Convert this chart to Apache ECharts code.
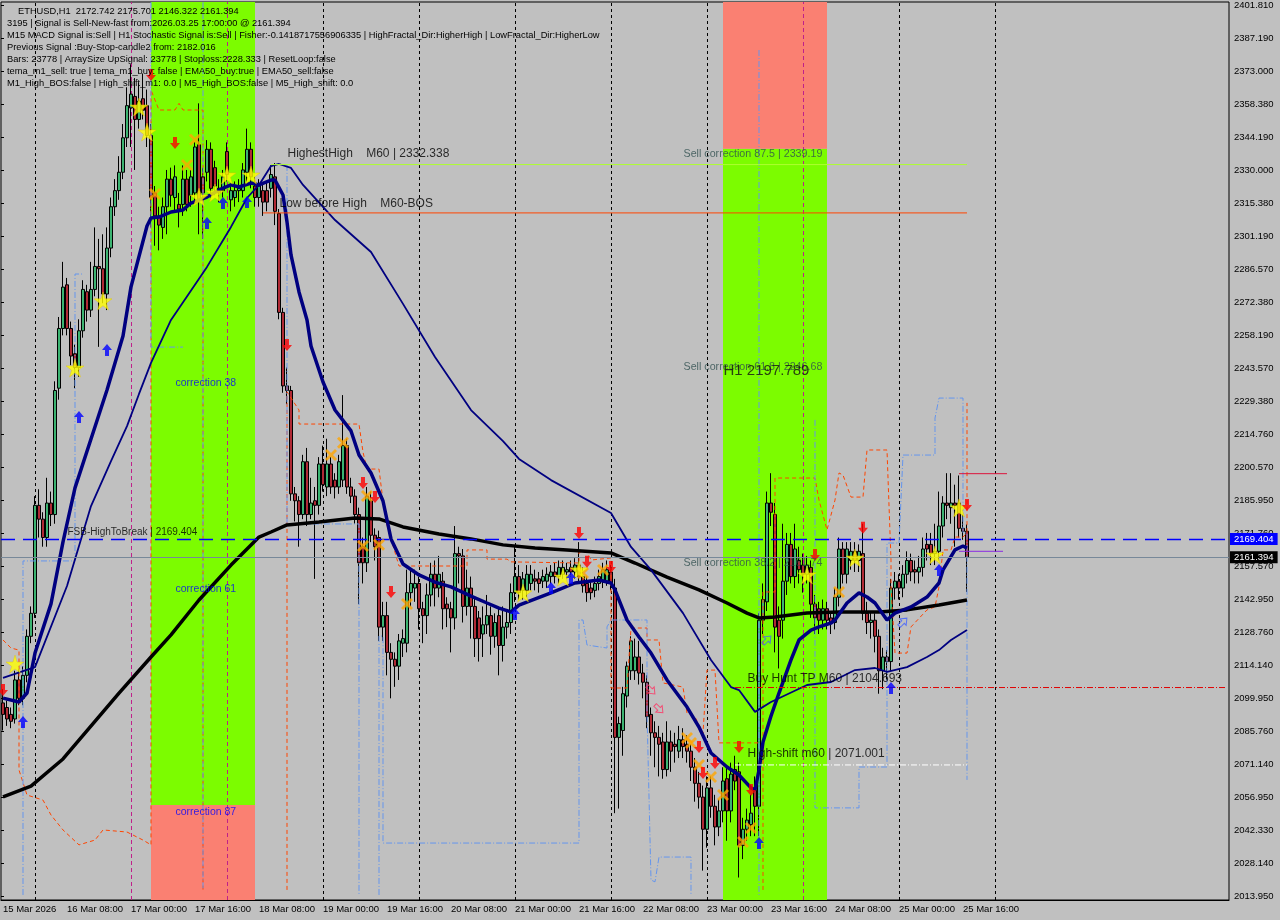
<!DOCTYPE html>
<html><head><meta charset="utf-8">
<script src="https://cdn.jsdelivr.net/npm/echarts@6/dist/echarts.min.js"></script>
<style>html,body{margin:0;padding:0;background:#c0c0c0}#c{width:1280px;height:920px}</style>
</head><body><div id="c"></div>
<script>
// ---------------- DATA ----------------
// OHLC per H1 bar, bar 0 = 15 Mar 2026 16:00  ([open, high, low, close])
const ohlc = [
[2098,2104,2086,2093],[2096,2099,2088,2091],[2093,2096,2087,2090],[2091,2112,2089,2108],[2108,2113,2097,2100],
[2100,2114,2097,2110],[2110,2130,2107,2127],[2127,2140,2124,2137],[2137,2188,2135,2184],[2184,2191,2170,2178],
[2178,2181,2166,2170],[2170,2196,2166,2185],[2185,2190,2175,2180],[2180,2238,2176,2234],[2235,2266,2230,2261],
[2261,2290,2258,2279],[2280,2283,2258,2261],[2261,2264,2245,2249],[2250,2254,2235,2244],[2244,2265,2240,2260],
[2260,2282,2257,2278],[2277,2280,2264,2269],[2269,2290,2266,2278],[2278,2305,2275,2288],[2288,2300,2253,2287],
[2287,2302,2272,2276],[2276,2305,2269,2296],[2296,2318,2292,2314],[2314,2326,2310,2321],[2321,2336,2317,2329],
[2329,2350,2326,2344],[2344,2366,2340,2358],[2357,2376,2340,2363],[2362,2370,2330,2352],[2352,2368,2348,2360],
[2361,2372,2352,2356],[2358,2365,2340,2345],[2345,2350,2305,2318],[2320,2323,2297,2310],[2310,2314,2295,2306],
[2305,2318,2300,2314],[2314,2330,2302,2326],[2326,2331,2314,2319],[2318,2332,2312,2327],[2315,2320,2305,2313],
[2315,2332,2310,2326],[2326,2330,2312,2315],[2319,2330,2314,2327],[2320,2342,2316,2340],[2341,2359,2302,2317],
[2327,2331,2300,2320],[2329,2343,2325,2339],[2339,2342,2318,2322],[2331,2334,2319,2323],[2322,2326,2316,2320],
[2321,2330,2318,2327],[2338,2342,2325,2328],[2317,2324,2312,2321],[2318,2325,2314,2321],[2321,2326,2316,2322],
[2321,2333,2318,2330],[2329,2348,2325,2339],[2339,2342,2322,2327],[2323,2327,2314,2318],[2318,2326,2314,2323],
[2321,2324,2310,2316],[2321,2325,2312,2316],[2322,2332,2318,2328],[2327,2333,2306,2312],[2311,2313,2265,2268],
[2268,2270,2233,2236],[2236,2244,2228,2234],[2234,2236,2186,2189],[2189,2192,2177,2186],[2186,2188,2166,2180],
[2180,2206,2178,2203],[2203,2209,2175,2180],[2180,2196,2178,2185],[2186,2192,2152,2184],[2184,2205,2180,2202],
[2202,2210,2190,2193],[2192,2213,2188,2202],[2202,2205,2189,2192],[2195,2198,2187,2192],[2192,2206,2189,2203],
[2195,2232,2192,2210],[2210,2213,2189,2192],[2192,2196,2185,2188],[2188,2191,2176,2180],[2180,2183,2141,2159],
[2166,2170,2150,2159],[2159,2192,2155,2188],[2186,2190,2168,2171],[2171,2174,2160,2166],[2170,2173,2125,2131],
[2131,2142,2125,2136],[2136,2142,2110,2120],[2120,2124,2100,2117],[2117,2120,2105,2114],[2114,2128,2108,2125],
[2124,2130,2118,2126],[2124,2156,2120,2146],[2146,2156,2140,2150],[2148,2156,2142,2150],[2150,2153,2130,2139],
[2139,2142,2124,2136],[2136,2150,2128,2145],[2145,2159,2140,2154],[2154,2160,2140,2148],[2148,2162,2144,2154],
[2151,2155,2130,2139],[2141,2144,2131,2139],[2139,2142,2120,2135],[2135,2175,2130,2163],[2163,2166,2150,2162],
[2162,2165,2133,2140],[2140,2156,2136,2148],[2148,2153,2126,2140],[2140,2144,2118,2126],[2135,2138,2116,2126],
[2128,2140,2118,2132],[2132,2145,2128,2136],[2136,2140,2119,2127],[2127,2137,2122,2133],[2136,2139,2110,2123],
[2123,2140,2116,2131],[2131,2138,2126,2133],[2133,2150,2128,2146],[2146,2166,2142,2153],[2153,2158,2143,2146],
[2147,2155,2143,2152],[2147,2158,2144,2154],[2150,2158,2147,2154],[2152,2156,2147,2151],[2152,2155,2146,2150],
[2151,2156,2148,2153],[2151,2157,2148,2154],[2153,2158,2150,2155],[2155,2159,2150,2153],[2153,2160,2150,2157],
[2154,2160,2152,2157],[2155,2159,2152,2156],[2157,2160,2153,2155],[2155,2161,2152,2158],[2158,2168,2150,2153],
[2153,2157,2146,2149],[2150,2153,2142,2146],[2148,2151,2143,2146],[2147,2153,2144,2150],[2150,2156,2147,2153],
[2151,2159,2148,2156],[2151,2160,2149,2156],[2155,2158,2147,2150],[2148,2152,2050,2083],[2083,2092,2052,2089],
[2086,2105,2075,2102],[2101,2116,2096,2114],[2112,2127,2108,2125],[2112,2126,2108,2118],[2118,2125,2106,2111],
[2111,2115,2100,2107],[2107,2110,2087,2092],[2093,2096,2075,2085],[2085,2090,2070,2083],[2083,2088,2066,2080],
[2081,2085,2065,2069],[2069,2090,2066,2081],[2081,2086,2068,2077],[2080,2085,2072,2079],[2077,2088,2074,2082],
[2082,2087,2074,2079],[2080,2084,2072,2077],[2077,2080,2064,2070],[2070,2074,2055,2063],[2063,2068,2052,2057],
[2057,2062,2025,2043],[2043,2066,2035,2061],[2061,2066,2048,2053],[2053,2058,2036,2044],[2044,2056,2040,2051],
[2051,2070,2046,2064],[2065,2070,2038,2051],[2051,2072,2046,2067],[2069,2075,2060,2064],[2068,2072,2022,2036],
[2036,2048,2030,2043],[2043,2052,2038,2047],[2045,2058,2040,2050],[2060,2066,2040,2053],[2053,2137,2040,2134],
[2134,2150,2128,2143],[2142,2190,2138,2185],[2185,2198,2175,2181],[2180,2185,2120,2131],[2134,2140,2113,2127],
[2134,2176,2126,2151],[2151,2172,2145,2167],[2167,2172,2150,2153],[2153,2176,2148,2165],[2160,2166,2150,2156],
[2158,2163,2146,2154],[2154,2162,2150,2158],[2157,2160,2135,2141],[2141,2145,2128,2135],[2139,2142,2128,2134],
[2134,2143,2130,2139],[2139,2142,2130,2134],[2135,2138,2128,2133],[2133,2148,2130,2144],[2144,2170,2140,2165],
[2165,2168,2150,2154],[2154,2168,2150,2165],[2160,2168,2156,2164],[2164,2168,2155,2160],[2160,2167,2155,2164],
[2163,2176,2134,2137],[2137,2142,2128,2133],[2133,2138,2126,2134],[2134,2137,2120,2127],[2127,2130,2102,2112],
[2112,2122,2104,2118],[2118,2121,2108,2116],[2116,2152,2112,2148],[2148,2155,2143,2151],[2151,2154,2143,2148],
[2148,2158,2144,2154],[2154,2164,2150,2160],[2160,2163,2151,2155],[2156,2160,2150,2155],[2155,2162,2150,2157],
[2157,2170,2153,2165],[2167,2172,2160,2165],[2167,2172,2158,2163],[2163,2176,2158,2164],[2164,2190,2160,2175],
[2175,2188,2170,2185],[2185,2198,2178,2184],[2183,2198,2176,2185],[2185,2193,2166,2184],[2185,2197,2170,2174],
[2174,2180,2169,2172.7],[2172.742,2175.701,2146.322,2161.394]
];

// Moving averages: [bar index, price]
const emaFast = [[0,2100.1],[4,2098.4],[6,2102.3],[8,2119.7],[12,2141.1],[15,2168.1],[18,2191.6],[22,2212.9],[26,2234.2],[30,2257.7],[32,2279.1],[36,2305.6],[37,2309.1],[39,2309.5],[42,2311.7],[45,2312.6],[47,2315.6],[51,2318.2],[54,2321.3],[57,2323.5],[59,2322.6],[62,2324.3],[64,2323.5],[67,2325.6],[68,2325.6],[70,2319.1],[71,2307.4],[72,2293.0],[74,2276.9],[76,2264.7],[77,2253.4],[80,2237.7],[83,2225.5],[87,2216.4],[89,2205.9],[92,2198.1],[95,2185.9],[97,2169.4],[100,2158.5],[104,2153.7],[108,2150.6],[112,2148.5],[117,2144.5],[121,2141.5],[124,2139.3],[127,2137.6],[129,2140.6],[137,2145.9],[143,2150.2],[149,2151.5],[152,2150.2],[153,2147.2],[156,2134.1],[159,2126.7],[162,2119.7],[166,2108.0],[171,2096.2],[174,2087.5],[177,2076.2],[181,2070.1],[184,2066.6],[187,2061.0],[188,2060.1],[189,2068.8],[190,2081.0],[192,2092.3],[194,2102.3],[197,2116.7],[199,2125.4],[202,2129.7],[204,2131.1],[207,2132.8],[208,2134.1],[211,2141.5],[214,2145.9],[216,2144.1],[218,2141.5],[221,2134.1],[223,2137.1],[227,2139.8],[231,2144.1],[234,2150.2],[235,2155.9],[238,2164.6],[240,2166.3],[241,2165.4]];
const emaMid = [[0,2108.9],[8,2113.6],[16,2148.9],[22,2183.7],[27,2203.3],[31,2218.5],[34,2232.5],[37,2246.0],[42,2264.7],[51,2287.8],[57,2305.2],[61,2317.8],[64,2323.5],[67,2331.7],[69,2332.6],[72,2330.9],[75,2323.5],[83,2308.2],[92,2294.3],[100,2271.7],[108,2248.6],[117,2225.5],[125,2212.0],[129,2204.2],[137,2195.0],[152,2180.7],[157,2165.9],[162,2155.9],[170,2137.1],[177,2116.7],[182,2104.9],[184,2103.6],[188,2094.1],[192,2098.4],[201,2105.8],[207,2107.1],[213,2112.3],[218,2113.2],[221,2111.5],[226,2113.6],[231,2118.0],[234,2121.0],[237,2125.4],[241,2129.7]];
const emaSlow = [[0,2057.1],[7,2061.8],[15,2073.6],[29,2102.3],[37,2118.0],[42,2127.6],[49,2142.8],[57,2158.0],[64,2170.2],[67,2172.4],[71,2175.5],[79,2176.8],[88,2178.5],[94,2178.1],[100,2174.6],[109,2171.5],[117,2169.4],[125,2166.8],[133,2165.4],[141,2164.6],[152,2163.3],[158,2158.9],[166,2152.8],[174,2147.2],[181,2141.5],[186,2137.1],[189,2135.0],[193,2135.4],[201,2137.1],[209,2137.6],[219,2137.6],[226,2138.5],[234,2140.6],[241,2142.8]];

// Dashed channel / step indicators: [bar index, price]
const redSteps = [
 [[0,2125.4],[2,2121.9],[4,2121.0],[4,2068.8],[6,2057.9],[10,2055.7],[12,2049.2],[15,2042.7],[19,2036.2],[23,2038.3],[25,2042.7],[31,2041.8],[35,2038.3],[37,2036.2],[37,2364.8],[39,2356.1],[43,2356.1],[44,2359.0],[45,2356.1],[50,2356.1],[50,2016.6]],
 [[71,2016.6],[71,2233.4],[74,2225.5],[74,2219.4],[89,2219.4],[90,2207.2],[91,2199.8],[94,2199.8],[95,2185.9],[96,2175.4],[99,2157.6],[116,2157.6],[116,2164.6],[121,2164.6],[121,2160.6],[126,2160.6],[127,2159.4],[144,2158.9],[144,2163.7],[146,2163.7],[147,2160.2],[152,2161.1],[152,2104.5],[156,2104.5],[157,2130.6],[161,2130.6],[161,2125.4],[164,2125.4],[165,2106.7],[170,2104.9],[171,2093.6],[173,2091.9],[175,2084.9],[176,2112.3],[178,2112.3],[179,2080.6],[189,2080.6]],
 [[190,2016.6],[190,2146.3],[193,2146.3],[193,2195.9],[203,2195.9],[204,2186.3],[206,2173.3],[208,2186.3],[209,2198.1],[210,2197.2],[212,2187.6],[215,2187.6],[216,2208.1],[221,2208.1],[222,2160.2],[222,2148.5],[223,2119.7],[226,2119.7],[227,2131.1],[231,2138.5],[233,2139.8],[234,2148.5],[235,2164.6],[237,2164.6],[238,2170.2],[240,2170.2],[241,2172.0],[241,2228.6]]
];
const blueSteps = [
 [[5,2014.4],[5,2159.8],[18,2159.8],[18,2284.7],[20,2284.7]],
 [[37,2403.0],[37,2252.9],[45,2252.9]],
 [[50,2403.0],[50,2016.6]],
 [[71,2332.2],[71,2175.9],[89,2175.9],[89,2014.4]],
 [[94,2014.4],[94,2127.1],[95,2127.1],[95,2037.0],[144,2037.0],[144,2134.1],[145,2134.1],[146,2123.2],[151,2121.9],[151,2131.1],[152,2134.1],[161,2134.1],[161,2093.6],[162,2020.9],[163,2020.1],[164,2030.9],[172,2030.9],[172,2014.4]],
 [[189,2382.2],[189,2014.4]],
 [[203,2221.2],[203,2052.3],[214,2052.3],[214,2070.1],[221,2070.1],[221,2167.6],[224,2167.6],[225,2205.9],[233,2205.9],[233,2222.0],[234,2230.7],[240,2230.7],[240,2172.0],[241,2172.0],[241,2064.5]]
];

// Signal markers: [bar index, price]
const stars = [[3,2114.9],[18,2243.8],[25,2273.0],[34,2357.4],[36,2346.5],[49,2318.2],[53,2320.0],[56,2327.8],[62,2327.8],[130,2145.9],[140,2152.8],[144,2155.9],[201,2153.7],[213,2161.1],[233,2162.4],[239,2182.9]];
const crosses = [[38,2319.5],[46,2332.2],[48,2343.1],[82,2205.9],[85,2211.2],[91,2188.1],[90,2166.3],[94,2166.8],[101,2141.1],[145,2154.6],[150,2155.9],[171,2082.7],[172,2080.6],[174,2071.0],[177,2065.8],[180,2057.9],[185,2037.5],[187,2043.6],[209,2146.3]];
const sellArrows = [[0,2103.6],[37,2371.3],[43,2341.7],[71,2253.8],[90,2193.7],[93,2187.6],[97,2146.3],[144,2172.0],[146,2159.4],[152,2157.2],[174,2078.8],[175,2067.5],[178,2071.9],[184,2078.8],[187,2060.1],[203,2162.4],[215,2174.2],[241,2184.2]];
const buyArrows = [[5,2089.7],[19,2222.5],[26,2251.6],[51,2306.9],[55,2315.6],[61,2316.1],[128,2136.7],[137,2148.0],[142,2152.4],[189,2037.0],[222,2104.5],[234,2155.9]];
const hollowSell = [[162,2103.6],[164,2095.4]];
const hollowBuy = [[191,2125.4],[225,2133.2]];

// Levels
const highestHigh = 2332.338, lowBeforeHigh = 2311.3, fsbHigh = 2169.404, bidPrice = 2161.394;
const buyHuntTP = 2104.693, highShift = 2071.001, h1Level = 2197.789, purpleLevel = 2164.0;
// Zones: [from bar, to bar, low price, high price]
const greenZones = [[37,63,2053.6,2403.2],[180,206,2012.2,2339.19]];
const salmonZones = [[37,63,2012.2,2053.6],[180,206,2339.19,2403.2]];

// Axis tick labels
const yTickLabels = ['2013.950','2028.140','2042.330','2056.950','2071.140','2085.760','2099.950','2114.140','2128.760','2142.950','2157.570','2171.760','2185.950','2200.570','2214.760','2229.380','2243.570','2258.190','2272.380','2286.570','2301.190','2315.380','2330.000','2344.190','2358.380','2373.000','2387.190','2401.810'];
const xTickLabels = ['15 Mar 2026','16 Mar 08:00','17 Mar 00:00','17 Mar 16:00','18 Mar 08:00','19 Mar 00:00','19 Mar 16:00','20 Mar 08:00','21 Mar 00:00','21 Mar 16:00','22 Mar 08:00','23 Mar 00:00','23 Mar 16:00','24 Mar 08:00','25 Mar 00:00','25 Mar 16:00'];
const dayLinesDotted = [8,80,104,128,152,176,224,248];
const dayLinesMagenta = [32,56,200];

const headerLines = [
 'ETHUSD,H1  2172.742 2175.701 2146.322 2161.394',
 '3195 | Signal is Sell-New-fast from:2026.03.25 17:00:00 @ 2161.394',
 'M15 MACD Signal is:Sell | H1 Stochastic Signal is:Sell | Fisher:-0.1418717556906335 | HighFractal_Dir:HigherHigh | LowFractal_Dir:HigherLow',
 'Previous Signal :Buy-Stop-candle2 from: 2182.016',
 'Bars: 23778 | ArraySize UpSignal: 23778 | Stoploss:2228.333 | ResetLoop:false',
 'tema_m1_sell: true | tema_m1_buy: false | EMA50_buy:true | EMA50_sell:false',
 'M1_High_BOS:false | High_shift_m1: 0.0 | M5_High_BOS:false | M5_High_shift: 0.0'
];
// chart annotations: [text, bar index, price]
const levelTexts = [['HighestHigh    M60 | 2332.338',71,2337.0],['Low before High    M60-BOS',69,2315.2],['Buy Hunt TP M60 | 2104.693',186,2108.4],['High-shift m60 | 2071.001',186,2075.8]];
const correctionTexts = [['Sell correction 87.5 | 2339.19',170,2337.0],['Sell correction 61.8 | 2246.68',170,2244.2],['Sell correction 38.2 | 2161.74',170,2158.9]];
const bigTexts = [['H1 2197.789',180,2242.5]];
const fsbTexts = [['FSB-HighToBreak | 2169.404',16,2172.4]];
const blueTexts = [['correction 38',43,2237.3],['correction 61',43,2147.6],['correction 87',43,2050.5]];

// ---------------- CHART ----------------
const FONT = '"Liberation Sans", Arial, sans-serif';
const NCAT = 307;
const cats = Array.from({length: NCAT}, (_, i) => String(i));
const PMIN = 2013.95 - 4 * 0.43531, PMAX = 2401.81 + 3 * 0.43531;

const ARROW_DOWN = 'path://M3,0L7,0L7,6L10,6L5,12L0,6L3,6Z';
const ARROW_UP = 'path://M5,0L10,6L7,6L7,12L3,12L3,6L0,6Z';
const STAR = 'path://M50,0L61,35L98,35L68,57L79,91L50,70L21,91L32,57L2,35L39,35Z';
const CROSS = 'path://M0,2L2,0L6,4L10,0L12,2L8,6L12,10L10,12L6,8L2,12L0,10L4,6Z';

function textSeries(items, color, size) {
  return {
    type: 'scatter', z: 8, silent: true, symbolSize: 1, itemStyle: {color: 'rgba(0,0,0,0)'},
    data: items.map(t => ({name: t[0], value: [t[1], t[2]]})),
    label: {show: true, position: 'right', distance: 0, formatter: '{b}', color: color, fontSize: size, fontFamily: FONT}
  };
}
function stepSeries(seg, color, type, width, z) {
  return {type: 'line', z: z || 4, silent: true, symbol: 'none', data: seg,
    lineStyle: {color: color, width: width || 1, type: type}};
}

const chart = echarts.init(document.getElementById('c'), null, {renderer: 'canvas'});
const series = [];
series.push({
  type: 'line', data: [], silent: true,
  markArea: {silent: true, z: 1,
    data: greenZones.map(z => [{coord: [z[0], z[3]], itemStyle: {color: '#7cfc00'}}, {coord: [z[1], z[2]]}])
      .concat(salmonZones.map(z => [{coord: [z[0], z[3]], itemStyle: {color: '#fa8072'}}, {coord: [z[1], z[2]]}]))},
  markLine: {silent: true, z: 1.5, symbol: ['none', 'none'], label: {show: false},
    data: dayLinesDotted.map(i => ({xAxis: i, lineStyle: {color: '#000', type: [3, 3], width: 1}}))
      .concat(dayLinesMagenta.map(i => ({xAxis: i, lineStyle: {color: '#c0208a', type: [4, 3], width: 1}})))}
});
series.push({
  type: 'candlestick', z: 3, barWidth: 3,
  data: ohlc.map(r => [r[0], r[3], r[2], r[1]]),
  itemStyle: {color: '#3cb371', color0: '#b02a35', borderColor: '#000', borderColor0: '#000', borderWidth: 1}
});
redSteps.forEach(s => series.push(stepSeries(s, '#ff4500', [4, 3])));
blueSteps.forEach(s => series.push(stepSeries(s, '#6495ed', [6, 2, 1, 2])));
// horizontal level segments
series.push(stepSeries([[67, highestHigh], [241, highestHigh]], '#adff2f', 'solid', 1, 6));
series.push(stepSeries([[65, lowBeforeHigh], [241, lowBeforeHigh]], '#ff4500', 'solid', 1, 6));
series.push(stepSeries([[183, buyHuntTP], [306, buyHuntTP]], '#e00000', [6, 2, 1, 2], 1, 6));
series.push(stepSeries([[183, highShift], [241, highShift]], '#ffffff', [6, 2, 1, 2], 1, 6));
series.push(stepSeries([[239, h1Level], [251, h1Level]], '#dc143c', 'solid', 1, 6));
series.push(stepSeries([[239, purpleLevel], [250, purpleLevel]], '#8a2be2', 'solid', 1, 6));
series.push({type: 'line', z: 5, silent: true, symbol: 'none', data: emaSlow, lineStyle: {color: '#000', width: 3.5}});
series.push({type: 'line', z: 5, silent: true, symbol: 'none', data: emaMid, lineStyle: {color: '#000080', width: 1.8}});
series.push({type: 'line', z: 5, silent: true, symbol: 'none', data: emaFast, lineStyle: {color: '#000080', width: 3.5}});
series.push({
  type: 'line', data: [], silent: true,
  markLine: {silent: true, z: 6, symbol: ['none', 'none'], label: {show: false},
    data: [
      {yAxis: bidPrice, lineStyle: {color: '#778899', width: 1, type: 'solid'},
        label: {show: true, position: 'end', distance: 1, formatter: '2161.394', color: '#fff', backgroundColor: '#000', padding: [1, 4, 1, 4], fontSize: 9.5, fontFamily: FONT}},
      {yAxis: fsbHigh, lineStyle: {color: '#0000ff', width: 1.3, type: [14, 8]},
        label: {show: true, position: 'end', distance: 1, formatter: '2169.404', color: '#fff', backgroundColor: '#0000ff', padding: [1, 4, 1, 4], fontSize: 9.5, fontFamily: FONT}}
    ]}
});
series.push({type: 'scatter', z: 7, silent: true, data: crosses, symbol: CROSS, symbolSize: 12, itemStyle: {color: '#ffa500'}});
series.push({type: 'scatter', z: 7, silent: true, data: stars, symbol: STAR, symbolSize: 18, itemStyle: {color: '#ffff00', borderColor: '#e0c000', borderWidth: 0.5}});
series.push({type: 'scatter', z: 7, silent: true, data: sellArrows, symbol: ARROW_DOWN, symbolSize: [10, 12], itemStyle: {color: '#ff0000'}});
series.push({type: 'scatter', z: 7, silent: true, data: buyArrows, symbol: ARROW_UP, symbolSize: [10, 12], itemStyle: {color: '#0000ff'}});
series.push({type: 'scatter', z: 7, silent: true, data: hollowSell, symbol: ARROW_DOWN, symbolRotate: 45, symbolSize: [9, 11],
  itemStyle: {color: 'rgba(0,0,0,0)', borderColor: '#ff3060', borderWidth: 1}});
series.push({type: 'scatter', z: 7, silent: true, data: hollowBuy, symbol: ARROW_UP, symbolRotate: -45, symbolSize: [9, 11],
  itemStyle: {color: 'rgba(0,0,0,0)', borderColor: '#4060ff', borderWidth: 1}});
series.push(textSeries(levelTexts, '#000', 12));
series.push(textSeries(correctionTexts, '#2f4f4f', 10.7));
series.push(textSeries(bigTexts, '#111', 15));
series.push(textSeries(fsbTexts, '#000', 10));
series.push(textSeries(blueTexts, '#0000ff', 10.5));

chart.setOption({
  animation: false,
  backgroundColor: '#c0c0c0',
  grid: [
    {left: 1, top: 2, width: 1228, height: 898, show: true, borderColor: '#000', borderWidth: 1, backgroundColor: '#c0c0c0'},
    {left: 1, top: 5, width: 1228, height: 891, show: false}
  ],
  xAxis: [{
    type: 'category', data: cats, boundaryGap: true, gridIndex: 0,
    axisLine: {lineStyle: {color: '#000', width: 1}},
    axisTick: {alignWithLabel: true, length: 4, lineStyle: {color: '#000'}, interval: (i) => i >= 8 && (i - 8) % 24 === 0 && i <= 248},
    axisLabel: {interval: (i) => i % 16 === 0 && i <= 240, formatter: (v) => xTickLabels[Math.round(Number(v) / 16)] || '',
      align: 'left', color: '#000', fontSize: 9.5, fontFamily: FONT, margin: 4},
    splitLine: {show: false}
  }, {type: 'value', gridIndex: 1, min: 0, max: 1, show: false}],
  yAxis: [
    {type: 'value', gridIndex: 0, min: PMIN, max: PMAX, show: false, splitLine: {show: false}},
    {type: 'value', gridIndex: 1, position: 'right', min: 0, max: 27, interval: 1,
      axisLine: {show: false},
      axisTick: {show: true, length: 3, lineStyle: {color: '#000'}},
      axisLabel: {color: '#000', fontSize: 9.5, fontFamily: FONT, margin: 5,
        formatter: (v) => yTickLabels[Math.round(v)] || ''},
      splitLine: {show: false}}
  ],
  graphic: headerLines.map((t, k) => ({
    type: 'text', z: 100, silent: true, x: k === 0 ? 18 : 7, y: 11 + k * 12,
    style: {text: t, fill: '#000', font: '9.3px ' + FONT, verticalAlign: 'middle'}
  })),
  series: series
});
</script></body></html>
